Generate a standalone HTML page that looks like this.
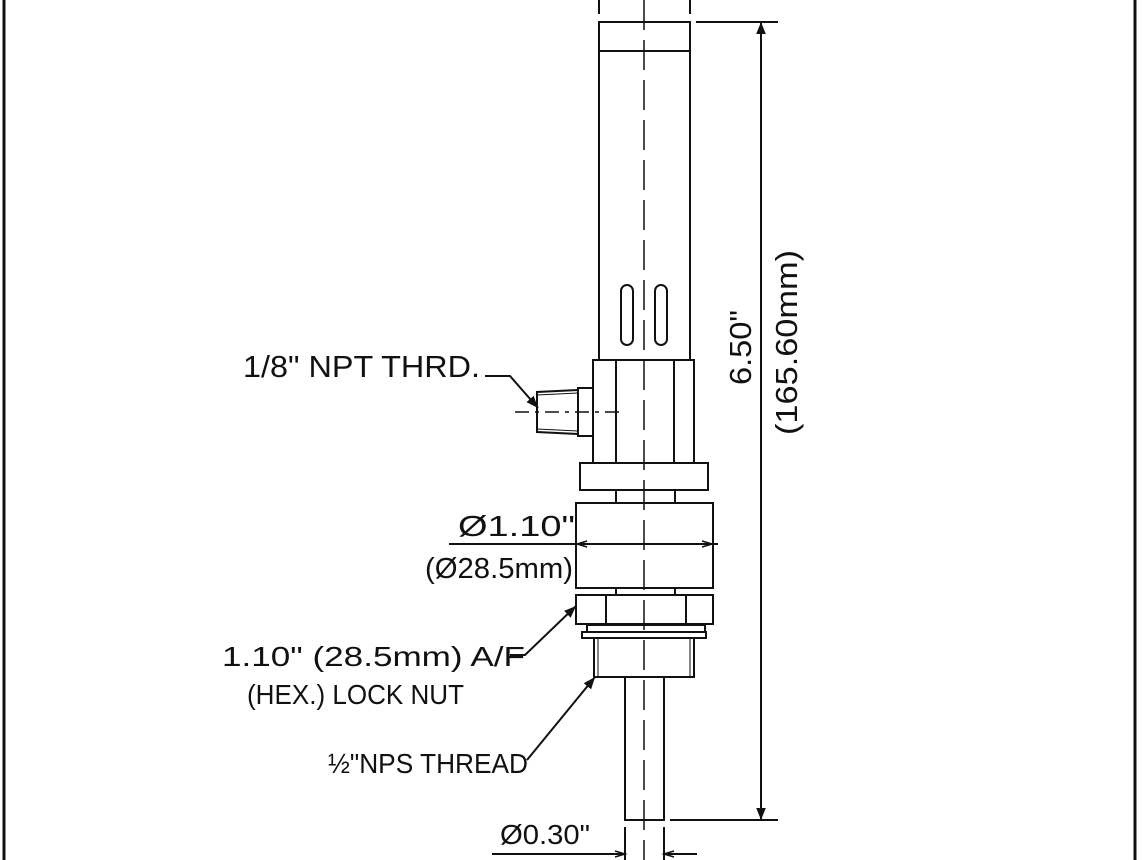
<!DOCTYPE html>
<html><head><style>html,body{margin:0;padding:0;background:#fff}svg{display:block}</style></head>
<body>
<svg width="1148" height="860" viewBox="0 0 1148 860" xmlns="http://www.w3.org/2000/svg" font-family="Liberation Sans, sans-serif" fill="none" stroke="#111" stroke-width="2">
<defs>
<marker id="a" viewBox="0 0 10 10" refX="10" refY="5" markerWidth="12" markerHeight="12" markerUnits="userSpaceOnUse" orient="auto-start-reverse"><path d="M0,1 L10,5 L0,9 z" fill="#111" stroke="none"/></marker>
<marker id="ab" viewBox="0 0 10 10" refX="10" refY="5" markerWidth="16" markerHeight="10" markerUnits="userSpaceOnUse" orient="auto-start-reverse"><path d="M0,2 L10,5 L0,8" fill="none" stroke="#111" stroke-width="1.5"/></marker>
</defs>
<line x1="4" y1="0" x2="4" y2="860" stroke-width="3"/>
<line x1="1135" y1="0" x2="1135" y2="860" stroke-width="3"/>
<!-- top tube -->
<line x1="599" y1="0" x2="599" y2="14"/><line x1="690" y1="0" x2="690" y2="14"/>
<rect x="599" y="22" width="91" height="338"/>
<line x1="599" y1="51" x2="690" y2="51"/>
<rect x="621" y="285" width="12" height="60" rx="6"/>
<rect x="655" y="285" width="12" height="60" rx="6"/>
<!-- centerline -->
<line x1="644" y1="0" x2="644" y2="860" stroke-dasharray="30,10" stroke-width="1.5"/>
<!-- body -->
<rect x="593" y="360" width="101" height="103"/>
<line x1="616" y1="360" x2="616" y2="463"/><line x1="674" y1="360" x2="674" y2="463"/>
<!-- side fitting -->
<path d="M593,388 H578 V436 H593"/>
<path d="M578,390 L537,392 V432 L578,434"/>
<line x1="537" y1="395" x2="578" y2="393" stroke-width="1"/>
<line x1="537" y1="429" x2="578" y2="431" stroke-width="1"/>
<line x1="515" y1="412" x2="622" y2="412" stroke-dasharray="14,6,4,6" stroke-width="1.5"/>
<!-- flange -->
<rect x="580" y="463" width="128" height="27"/>
<line x1="616" y1="490" x2="616" y2="503"/><line x1="675" y1="490" x2="675" y2="503"/>
<rect x="576" y="503" width="137" height="85"/>
<line x1="616" y1="588" x2="616" y2="595"/><line x1="675" y1="588" x2="675" y2="595"/>
<rect x="576" y="595" width="137" height="29"/>
<line x1="606" y1="595" x2="606" y2="624"/><line x1="686" y1="595" x2="686" y2="624"/>
<rect x="587" y="625" width="118" height="7"/>
<rect x="582" y="632" width="124" height="6"/>
<rect x="594" y="638" width="100" height="39"/>
<line x1="598" y1="638" x2="598" y2="677" stroke-width="1"/><line x1="690" y1="638" x2="690" y2="677" stroke-width="1"/>
<rect x="625" y="677" width="39" height="143"/>
<!-- dims -->
<line x1="696" y1="22" x2="778" y2="22"/>
<line x1="670" y1="820" x2="778" y2="820"/>
<line x1="761" y1="22" x2="761" y2="820" marker-start="url(#a)" marker-end="url(#a)"/>
<line x1="449" y1="544" x2="718" y2="544"/>
<line x1="600" y1="544" x2="577" y2="544" marker-end="url(#ab)"/>
<line x1="690" y1="544" x2="712" y2="544" marker-end="url(#ab)"/>
<line x1="625" y1="827" x2="625" y2="860"/><line x1="664" y1="827" x2="664" y2="860"/>
<line x1="492" y1="854" x2="625" y2="854" marker-end="url(#ab)"/>
<line x1="697" y1="854" x2="664" y2="854" marker-end="url(#ab)"/>
<!-- leaders -->
<path d="M485,376 H510 L538,408" marker-end="url(#a)"/>
<path d="M510,655 H525 L576,606" marker-end="url(#a)"/>
<path d="M527,760 L595,677" marker-end="url(#a)"/>
<!-- text -->
<g fill="#111" stroke="none">
<text x="243" y="377" font-size="31" textLength="237" lengthAdjust="spacingAndGlyphs">1/8" NPT THRD.</text>
<text x="458" y="536" font-size="29" textLength="117" lengthAdjust="spacingAndGlyphs">Ø1.10"</text>
<text x="425" y="578" font-size="29" textLength="148" lengthAdjust="spacingAndGlyphs">(Ø28.5mm)</text>
<text x="222" y="666" font-size="28" textLength="303" lengthAdjust="spacingAndGlyphs">1.10" (28.5mm) A/F</text>
<text x="247" y="704" font-size="28" textLength="217" lengthAdjust="spacingAndGlyphs">(HEX.) LOCK NUT</text>
<text x="328" y="773" font-size="28" textLength="200" lengthAdjust="spacingAndGlyphs">½"NPS THREAD</text>
<text x="500" y="844" font-size="28" textLength="90" lengthAdjust="spacingAndGlyphs">Ø0.30"</text>
<text transform="translate(751,385) rotate(-90)" font-size="31" textLength="75" lengthAdjust="spacingAndGlyphs">6.50"</text>
<text transform="translate(797,435) rotate(-90)" font-size="31" textLength="185" lengthAdjust="spacingAndGlyphs">(165.60mm)</text>
</g>
</svg>
</body></html>
